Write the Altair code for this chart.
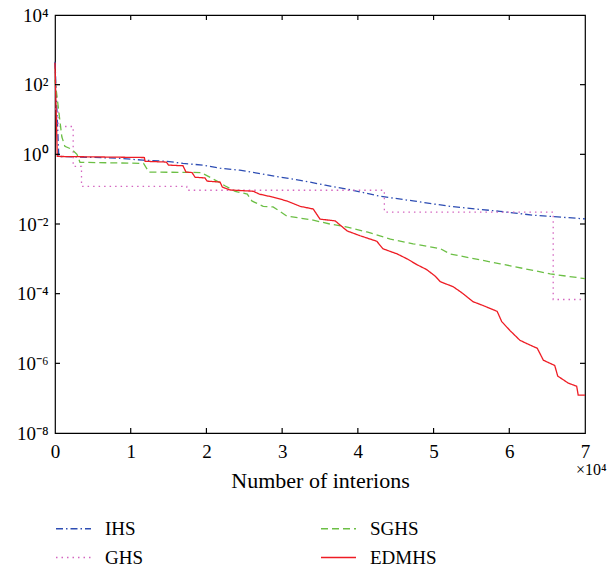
import math
import altair as alt
import pandas as pd

FONT = "Liberation Serif"

series_order = ["IHS", "GHS", "SGHS", "EDMHS"]
series_colors = ["#2d4db3", "#d466c0", "#6cbf45", "#ee1c24"]
series_dashes = [[7, 3, 1.5, 3], [1.5, 4], [7, 4], [1, 0]]

# IHS (dash-dot, blue)
ihs_x = [0, 500, 8200, 11600, 14800, 16900, 19500, 21800, 24400, 26700, 29300,
         32400, 35700, 38600, 42900, 47300, 52200, 58800, 63100, 70000]
ihs_y = [457, 0.87, 0.78, 0.68, 0.63, 0.55, 0.49, 0.40, 0.35, 0.29, 0.23,
         0.18, 0.13, 0.10, 0.063, 0.046, 0.032, 0.023, 0.018, 0.014]

# SGHS (dashed, green)
sghs_x = [0, 660, 900, 1300, 2200, 2900, 3300, 11700, 12400, 19300, 21400, 22500,
          23800, 25400, 26000, 27500, 28800, 29700, 30600, 34100, 36300, 38600,
          41200, 44300, 47300, 50900, 52200, 58800, 65400, 70000]
sghs_y = [138, 8.7, 3.2, 1.7, 1.4, 1.0, 0.59, 0.55, 0.31, 0.30, 0.17, 0.123,
          0.087, 0.072, 0.046, 0.032, 0.031, 0.023, 0.017, 0.0129, 0.010, 0.0081,
          0.0059, 0.0037, 0.0027, 0.00195, 0.00138, 0.00072, 0.00037, 0.00027]

# GHS (dotted, magenta) - stepwise
ghs_x = [0, 400, 2400, 3500, 17400, 43500, 65800, 70000]
ghs_y = [20, 6.3, 0.45, 0.12, 0.093, 0.022, 0.000068, 0.000068]

# EDMHS (solid, red)
ed_x = [0, 300, 6000, 11800, 11900, 14700, 15000, 16900, 17300, 18100, 18500,
        19800, 20100, 21800, 22100, 23100, 26200, 27000, 28800, 30600, 32400,
        34100, 35000, 37000, 38600, 40300, 42500, 43300, 45200, 46500, 47800,
        49100, 50200, 50900, 52600, 53900, 55200, 56500, 58400, 59000, 60100,
        61400, 62300, 63700, 64500, 66000, 66400, 67800, 68900, 69100, 70000]
ed_y = [427, 0.87, 0.84, 0.81, 0.63, 0.60, 0.49, 0.47, 0.31, 0.30, 0.22,
        0.21, 0.17, 0.16, 0.115, 0.095, 0.087, 0.072, 0.059, 0.046, 0.032,
        0.027, 0.0138, 0.0123, 0.0063, 0.0046, 0.0032, 0.00195, 0.00138, 0.0010,
        0.00068, 0.00049, 0.00032, 0.00022, 0.000158, 0.00010, 0.000059,
        0.000046, 0.000031, 0.0000158, 0.0000087, 0.0000046, 0.0000037,
        0.0000027, 0.00000123, 0.00000087, 0.00000043, 0.00000027, 0.00000022,
        0.000000123, 0.000000123]

x_tick_values = [0, 10000, 20000, 30000, 40000, 50000, 60000, 70000]
x_tick_labels = ["0", "1", "2", "3", "4", "5", "6", "7"]
x_inner_ticks = [10000, 20000, 30000, 40000, 50000, 60000]
y_tick_values = [1e-8, 1e-6, 1e-4, 1e-2, 1, 1e2, 1e4]
y_tick_labels = ["10⁻⁸", "10⁻⁶", "10⁻⁴", "10⁻²", "10⁰", "10²", "10⁴"]
y_inner_ticks = [1e-6, 1e-4, 1e-2, 1, 1e2]
x_exponent_label = ["×10⁴"]
x_title = "Number of interions"

W, H = 530, 418


def frame(name, xs, ys):
    return pd.DataFrame({"series": name, "x": xs, "y": ys, "i": range(len(xs))})


xs = alt.Scale(domain=[0, 70000], nice=False, zero=False)
ys = alt.Scale(type="log", domain=[1e-8, 1e4], nice=False)

x_label_expr = "".join(
    f"datum.value == {v} ? '{l}' : " for v, l in zip(x_tick_values, x_tick_labels)
) + "''"
y_label_expr = "".join(
    f"round(log(datum.value)/LN10) == {round(math.log10(v))} ? '{l}' : "
    for v, l in zip(y_tick_values, y_tick_labels)
) + "''"

x_axis = alt.Axis(values=x_tick_values, labelExpr=x_label_expr, ticks=False, domain=False,
                  grid=False, title=x_title, labelFont=FONT, labelFontSize=19,
                  labelColor="black", labelPadding=9, labelFlush=False,
                  titleFont=FONT, titleFontSize=22,
                  titleFontWeight="normal", titleColor="black", titlePadding=9)
y_axis = alt.Axis(values=y_tick_values, labelExpr=y_label_expr, ticks=False, domain=False,
                  grid=False, title=None, labelFont=FONT, labelFontSize=19,
                  labelColor="black", labelPadding=7, labelFlush=False)

X = alt.X("x:Q", scale=xs, axis=x_axis)
Y = alt.Y("y:Q", scale=ys, axis=y_axis)

legend = alt.Legend(orient="none", legendX=0, legendY=495, columns=2, columnPadding=174,
                    rowPadding=0, symbolType="stroke", symbolSize=1225,
                    symbolStrokeWidth=1.3, labelFont=FONT, labelFontSize=19,
                    labelColor="black", labelOffset=13, title=None, padding=0)
C = alt.Color("series:N", scale=alt.Scale(domain=series_order, range=series_colors),
              legend=legend)
D = alt.StrokeDash("series:N", scale=alt.Scale(domain=series_order, range=series_dashes),
                   legend=legend)


def line(df, interp):
    return alt.Chart(df).mark_line(interpolate=interp, strokeWidth=1.3).encode(
        x=X, y=Y, color=C, strokeDash=D, order="i:Q")


layers = [
    line(frame("IHS", ihs_x, ihs_y), "linear"),
    line(frame("GHS", ghs_x, ghs_y), "step-after"),
    line(frame("SGHS", sghs_x, sghs_y), "linear"),
    line(frame("EDMHS", ed_x, ed_y), "linear"),
]

ydf = pd.DataFrame({"y": y_inner_ticks})
xdf = pd.DataFrame({"x": x_inner_ticks})
tick_style = dict(color="black", strokeWidth=1.2)
layers += [
    alt.Chart(ydf).mark_rule(**tick_style).encode(y=Y, x=alt.value(0), x2=alt.value(5)),
    alt.Chart(ydf).mark_rule(**tick_style).encode(y=Y, x=alt.value(W - 5), x2=alt.value(W)),
    alt.Chart(xdf).mark_rule(**tick_style).encode(x=X, y=alt.value(H - 5), y2=alt.value(H)),
    alt.Chart(xdf).mark_rule(**tick_style).encode(x=X, y=alt.value(0), y2=alt.value(5)),
    alt.Chart(pd.DataFrame({"t": x_exponent_label})).mark_text(
        font=FONT, fontSize=16, align="left", baseline="middle", color="black"
    ).encode(text="t:N", x=alt.value(W - 9), y=alt.value(H + 37)),
]

chart = alt.layer(*layers).properties(
    width=W, height=H,
    autosize=alt.AutoSizeParams(type="none"),
    padding={"left": 47, "top": 7, "right": 23, "bottom": 134},
).configure_view(stroke="black", strokeWidth=1.2)

chart.save("out.html", embed_options={"renderer": "svg", "actions": False})
